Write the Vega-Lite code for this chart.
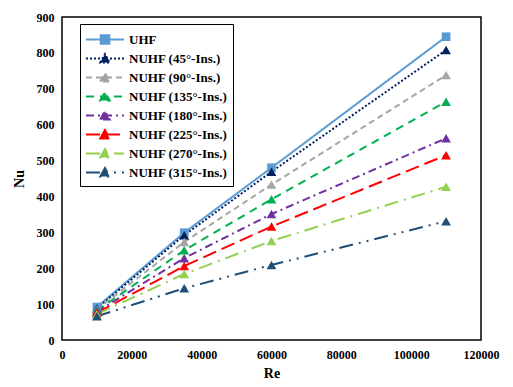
{
  "$schema": "https://vega.github.io/schema/vega-lite/v6.json",
  "autosize": {"type": "none"},
  "padding": {"left": 62, "top": 17, "right": 32, "bottom": 47},
  "width": 419,
  "height": 323,
  "background": "white",
  "config": {
    "view": {"stroke": "black", "strokeWidth": 1.5},
    "axis": {
      "labelFont": "Liberation Serif",
      "labelFontWeight": "bold",
      "labelFontSize": 12,
      "labelColor": "black",
      "titleFont": "Liberation Serif",
      "titleFontWeight": "bold",
      "titleFontSize": 14,
      "titleColor": "black",
      "grid": false,
      "ticks": false,
      "domain": false
    }
  },
  "data": {
    "values": [
      {"Re": 10000, "Nu": 92, "series": "UHF"},
      {"Re": 35000, "Nu": 299, "series": "UHF"},
      {"Re": 60000, "Nu": 480, "series": "UHF"},
      {"Re": 110000, "Nu": 845, "series": "UHF"},
      {"Re": 10000, "Nu": 88, "series": "NUHF (45°-Ins.)"},
      {"Re": 35000, "Nu": 292, "series": "NUHF (45°-Ins.)"},
      {"Re": 60000, "Nu": 469, "series": "NUHF (45°-Ins.)"},
      {"Re": 110000, "Nu": 808, "series": "NUHF (45°-Ins.)"},
      {"Re": 10000, "Nu": 85, "series": "NUHF (90°-Ins.)"},
      {"Re": 35000, "Nu": 273, "series": "NUHF (90°-Ins.)"},
      {"Re": 60000, "Nu": 433, "series": "NUHF (90°-Ins.)"},
      {"Re": 110000, "Nu": 738, "series": "NUHF (90°-Ins.)"},
      {"Re": 10000, "Nu": 82, "series": "NUHF (135°-Ins.)"},
      {"Re": 35000, "Nu": 250, "series": "NUHF (135°-Ins.)"},
      {"Re": 60000, "Nu": 392, "series": "NUHF (135°-Ins.)"},
      {"Re": 110000, "Nu": 664, "series": "NUHF (135°-Ins.)"},
      {"Re": 10000, "Nu": 79, "series": "NUHF (180°-Ins.)"},
      {"Re": 35000, "Nu": 228, "series": "NUHF (180°-Ins.)"},
      {"Re": 60000, "Nu": 351, "series": "NUHF (180°-Ins.)"},
      {"Re": 110000, "Nu": 562, "series": "NUHF (180°-Ins.)"},
      {"Re": 10000, "Nu": 76, "series": "NUHF (225°-Ins.)"},
      {"Re": 35000, "Nu": 206, "series": "NUHF (225°-Ins.)"},
      {"Re": 60000, "Nu": 316, "series": "NUHF (225°-Ins.)"},
      {"Re": 110000, "Nu": 515, "series": "NUHF (225°-Ins.)"},
      {"Re": 10000, "Nu": 72, "series": "NUHF (270°-Ins.)"},
      {"Re": 35000, "Nu": 184, "series": "NUHF (270°-Ins.)"},
      {"Re": 60000, "Nu": 276, "series": "NUHF (270°-Ins.)"},
      {"Re": 110000, "Nu": 427, "series": "NUHF (270°-Ins.)"},
      {"Re": 10000, "Nu": 66, "series": "NUHF (315°-Ins.)"},
      {"Re": 35000, "Nu": 144, "series": "NUHF (315°-Ins.)"},
      {"Re": 60000, "Nu": 209, "series": "NUHF (315°-Ins.)"},
      {"Re": 110000, "Nu": 331, "series": "NUHF (315°-Ins.)"}
    ]
  },
  "encoding": {
    "x": {
      "field": "Re", "type": "quantitative",
      "scale": {"domain": [0, 120000], "nice": false, "zero": true},
      "axis": {"values": [0, 20000, 40000, 60000, 80000, 100000, 120000], "format": "d", "labelPadding": 9, "title": "Re", "titlePadding": 6, "labelFlush": false}
    },
    "y": {
      "field": "Nu", "type": "quantitative",
      "scale": {"domain": [0, 900], "nice": false},
      "axis": {"values": [0, 100, 200, 300, 400, 500, 600, 700, 800, 900], "format": "d", "labelPadding": 8, "title": "Nu", "titlePadding": 10}
    }
  },
  "layer": [
    {
      "mark": {"type": "line", "strokeWidth": 2},
      "encoding": {
        "color": {
          "field": "series", "type": "nominal",
          "scale": {
            "domain": ["UHF", "NUHF (45°-Ins.)", "NUHF (90°-Ins.)", "NUHF (135°-Ins.)", "NUHF (180°-Ins.)", "NUHF (225°-Ins.)", "NUHF (270°-Ins.)", "NUHF (315°-Ins.)"],
            "range": ["#5B9BD5", "#002060", "#A5A5A5", "#00B050", "#7030A0", "#FF0000", "#92D050", "#1F4E79"]
          },
          "legend": {
            "orient": "none", "legendX": 18, "legendY": 7, "title": null,
            "symbolType": "stroke", "symbolSize": 361, "symbolStrokeWidth": 2,
            "labelFont": "Liberation Serif", "labelFontWeight": "bold", "labelFontSize": 13, "labelColor": "black",
            "labelOffset": 23, "padding": 5, "rowPadding": 0,
            "strokeColor": "black", "fillColor": "white",
            "encode": {
              "symbols": {
                "update": {
                  "fill": {"scale": "color", "field": "value"},
                  "shape": {"signal": "datum.value === 'UHF' ? 'M-1,0H3M0.55,-0.45H1.45V0.45H0.55Z' : 'M-1,0H3M0.5,0.42L1,-0.46L1.5,0.42Z'"}
                }
              }
            }
          }
        },
        "strokeDash": {
          "field": "series", "type": "nominal",
          "scale": {
            "domain": ["UHF", "NUHF (45°-Ins.)", "NUHF (90°-Ins.)", "NUHF (135°-Ins.)", "NUHF (180°-Ins.)", "NUHF (225°-Ins.)", "NUHF (270°-Ins.)", "NUHF (315°-Ins.)"],
            "range": [[1, 0], [2, 2], [6, 4], [8, 6], [8, 4, 2, 4], [14, 6], [14, 6, 2, 6], [14, 6, 2, 6, 2, 6]]
          },
          "legend": {
            "orient": "none", "legendX": 18, "legendY": 7, "title": null,
            "symbolType": "stroke", "symbolSize": 361, "symbolStrokeWidth": 2,
            "labelFont": "Liberation Serif", "labelFontWeight": "bold", "labelFontSize": 13, "labelColor": "black",
            "labelOffset": 23, "padding": 5, "rowPadding": 0,
            "strokeColor": "black", "fillColor": "white"
          }
        }
      }
    },
    {
      "mark": {"type": "point", "filled": true, "opacity": 1, "strokeWidth": 0},
      "encoding": {
        "fill": {
          "field": "series", "type": "nominal",
          "scale": {
            "domain": ["UHF", "NUHF (45°-Ins.)", "NUHF (90°-Ins.)", "NUHF (135°-Ins.)", "NUHF (180°-Ins.)", "NUHF (225°-Ins.)", "NUHF (270°-Ins.)", "NUHF (315°-Ins.)"],
            "range": ["#5B9BD5", "#002060", "#A5A5A5", "#00B050", "#7030A0", "#FF0000", "#92D050", "#1F4E79"]
          },
          "legend": null
        },
        "shape": {"condition": {"test": "datum.series === 'UHF'", "value": "square"}, "value": "triangle-up"},
        "size": {"condition": {"test": "datum.series === 'UHF'", "value": 75}, "value": 95}
      }
    }
  ]
}
